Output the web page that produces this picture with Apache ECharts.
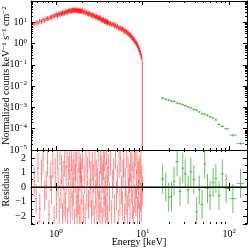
<!DOCTYPE html>
<html><head><meta charset="utf-8">
<script src="https://cdn.jsdelivr.net/npm/echarts@6/dist/echarts.min.js"></script>
<style>html,body{margin:0;padding:0;background:#fff}#c{width:249px;height:248px}</style>
</head><body><div id="c"></div>
<script>
// ---- data ----
const redEnergy = [
 0.56,0.59,0.62,0.65,0.68,0.71,0.74,0.77,0.80,0.83,0.86,0.89,0.92,0.95,0.98,
 1.01,1.04,1.06,1.09,1.11,1.14,1.16,1.19,1.21,1.24,1.26,1.29,1.31,1.34,1.36,1.39,1.41,1.44,1.46,1.49,
 1.51,1.54,1.56,1.59,1.61,1.64,1.66,1.69,1.71,1.74,1.76,1.79,1.81,1.84,1.86,1.89,1.91,1.94,1.96,1.99,
 2.02,2.07,2.12,2.17,2.22,2.27,2.32,2.37,2.42,2.47,2.52,2.57,2.62,2.67,2.72,2.77,2.82,2.87,2.92,2.97,
 3.02,3.07,3.12,3.17,3.22,3.27,3.32,3.37,3.42,3.47,3.52,3.57,3.62,3.67,3.72,3.77,3.82,3.87,3.92,3.97,
 4.03,4.15,4.27,4.39,4.51,4.63,4.75,4.87,4.99,5.11,5.23,5.35,5.47,5.59,5.71,5.83,5.95,6.07,6.19,6.31,
 6.43,6.55,6.67,6.79,6.91,7.03,7.15,7.27,7.39,7.51,7.63,7.75,7.87,7.99,8.11,8.23,8.35,8.47,8.59,8.71,
 8.83,8.95,9.07,9.19,9.31,9.43,9.55,9.67,9.79,9.91];
const redCounts = [
 8.3,9.9,9.4,11.8,11.0,13.4,12.1,14.6,15.5,15.4,18.1,17.2,20.3,19.0,21.9,
 23.4,21.0,24.1,25.9,23.2,27.8,25.0,28.9,26.6,30.9,27.5,31.8,29.4,33.9,31.0,35.2,31.8,36.9,33.5,37.8,
 34.0,39.5,35.1,38.2,36.0,40.6,34.9,38.8,36.4,39.9,35.0,38.3,33.8,37.9,34.2,36.9,32.6,36.5,33.1,35.6,
 35.1,30.2,32.4,27.9,30.5,28.6,26.0,24.6,26.9,25.3,22.9,21.4,23.8,20.1,22.3,21.2,19.0,17.7,19.6,16.6,
 18.5,15.6,17.4,16.9,14.7,16.5,13.8,13.0,14.5,12.2,13.6,12.9,11.5,10.9,12.1,10.3,11.5,9.7,10.9,9.3,
 10.3,8.6,9.3,7.7,8.4,7.9,6.9,7.6,6.3,6.9,5.7,5.1,5.7,5.3,4.7,5.2,4.3,4.7,3.8,4.2,
 3.5,3.8,3.1,3.4,2.7,2.9,2.35,2.55,2.05,2.2,1.78,1.9,1.5,1.6,1.27,1.34,1.05,1.1,0.86,0.89,
 0.68,0.70,0.52,0.53,0.39,0.39,0.28,0.27,0.19,0.11];
const redResid = [
 0.4,-0.8,1.3,-1.5,0.9,2.0,-0.6,0.1,1.7,-1.9,
 0.7,-0.2,1.6,-2.3,1.0,-1.2,2.2,0.3,-1.7,2.5,
 -0.5,1.2,-2.1,0.8,-1.0,1.7,-1.4,0.5,2.3,-2.4,
 1.1,-0.7,1.5,-1.8,0.2,2.1,-1.3,0.9,-0.3,1.8,
 -2.5,0.6,1.4,-1.1,2.4,-1.6,0.3,-0.9,2.0,-2.2,
 0.7,1.3,-1.8,1.0,-0.2,2.2,-1.5,0.5,-2.1,1.6,
 -0.6,1.1,-1.2,2.3,-0.4,0.8,-1.9,1.4,-1.0,0.6,
 -2.3,1.7,-0.5,0.9,-1.7,0.3,2.4,-1.3,0.1,-2.0,
 1.9,-0.8,1.2,-2.4,0.6,1.5,-1.1,2.1,-0.3,-1.6,
 0.8,2.5,-1.4,0.4,-2.2,1.3,-0.7,1.8,-1.9,0.2,
 1.0,-1.5,2.2,-0.6,0.5,-2.5,1.6,-1.0,2.0,-0.2,
 -1.3,0.9,1.7,-2.1,0.3,-0.9,2.3,-1.6,1.1,-0.4,
 0.6,-1.8,1.4,-0.1,2.1,-1.2,0.7,-2.3,1.5,-0.8,
 2.4,-1.0,0.2,1.9,-1.7,0.8,-0.5,1.2,-2.0,1.0,
 -0.7,1.6,-1.4,0.5,-0.3];
const greenEnergy = [17,18.5,20,21.5,23,25,27,29,31,33.5,36,39,42,45,48.5,52,56,60,65,70,76,83,92,110,135];
const greenCounts = [2.7e-3,2.4e-3,2.2e-3,2.0e-3,1.9e-3,1.6e-3,1.5e-3,1.35e-3,1.2e-3,1.05e-3,9.5e-4,8.0e-4,7.5e-4,6.2e-4,5.0e-4,4.8e-4,4.2e-4,3.6e-4,3.2e-4,2.6e-4,1.6e-4,1.3e-4,1.0e-4,5e-5,2e-5];
const greenResid = [0.55,0.0,-0.7,-0.65,0.4,1.75,-0.3,1.3,0.9,-0.2,1.05,0.5,-1.7,-0.2,-1.2,1.6,-0.1,-0.6,0.3,0.6,-0.6,0.9,-0.1,-0.8,0.25];
const redRelErr = 0.25, greenRelErr = 0.12, residErr = 1;
const redLastLower = 1e-5;        // last red bin's lower error reaches the floor

// ---- layout / style ----
const XMIN = 0.515, XMAX = 160, YMIN = 1e-5, YMAX = 100, RMIN = -2.55, RMAX = 2.55;
const RED_TOP = 'rgba(255,0,0,0.7)', RED = 'rgba(255,0,0,0.45)', GREEN = 'rgba(0,150,0,0.6)';
const FONT = 'Liberation Serif';

function edges(E){
  return E.map((e,i)=>{
    let lo, hi;
    if (i>0) lo = Math.sqrt(E[i-1]*e);
    if (i<E.length-1) hi = Math.sqrt(E[i+1]*e);
    if (lo===undefined) lo = e*e/hi;
    if (hi===undefined) hi = e*e/lo;
    return [lo,hi];
  });
}
const rE = edges(redEnergy), gE = edges(greenEnergy);
const redTop = redEnergy.map((e,i)=>[e, redCounts[i], i===redEnergy.length-1?redLastLower:redCounts[i]*(1-redRelErr), redCounts[i]*(1+redRelErr), rE[i][0], rE[i][1]]);
const greenTop = greenEnergy.map((e,i)=>[e, greenCounts[i], greenCounts[i]*(1-greenRelErr), greenCounts[i]*(1+greenRelErr), gE[i][0], gE[i][1]]);
const redRes = redEnergy.map((e,i)=>[e, redResid[i], redResid[i]-residErr, redResid[i]+residErr, rE[i][0], rE[i][1]]);
const greenRes = greenEnergy.map((e,i)=>[e, greenResid[i], greenResid[i]-residErr, greenResid[i]+residErr, gE[i][0], gE[i][1]]);

function errRender(color){
  return function(params, api){
    const x=api.value(0), y=api.value(1), ylo=api.value(2), yhi=api.value(3), xlo=api.value(4), xhi=api.value(5);
    const a=api.coord([x,ylo]), b=api.coord([x,yhi]), l=api.coord([xlo,y]), r=api.coord([xhi,y]);
    const style={stroke:color,lineWidth:1};
    return {type:'group',children:[
      {type:'line',shape:{x1:a[0],y1:a[1],x2:b[0],y2:b[1]},style},
      {type:'line',shape:{x1:l[0],y1:l[1],x2:r[0],y2:r[1]},style}
    ]};
  };
}
const xMinor=[]; for(let k=-1;k<=2;k++) for(let m=2;m<=9;m++){const v=m*Math.pow(10,k); if(v>XMIN&&v<XMAX) xMinor.push(v);}
const yMinor=[]; for(let k=-5;k<=1;k++) for(let m=2;m<=9;m++){const v=m*Math.pow(10,k); if(v>YMIN&&v<YMAX) yMinor.push(v);}
function minorRender(yRef){
  return function(params, api){
    const cs=params.coordSys; const kind=api.value(2);
    const st={stroke:'#000',lineWidth:1};
    if(kind===0){
      const px=Math.round(api.coord([api.value(0),yRef])[0])+0.5;
      return {type:'group',children:[
        {type:'line',shape:{x1:px,y1:cs.y+cs.height,x2:px,y2:cs.y+cs.height-2},style:st},
        {type:'line',shape:{x1:px,y1:cs.y,x2:px,y2:cs.y+2},style:st}]};
    } else {
      const py=Math.round(api.coord([1,api.value(1)])[1])+0.5;
      return {type:'group',children:[
        {type:'line',shape:{x1:cs.x,y1:py,x2:cs.x+2,y2:py},style:st},
        {type:'line',shape:{x1:cs.x+cs.width,y1:py,x2:cs.x+cs.width-2,y2:py},style:st}]};
    }
  };
}
function powLabel(v){
  const e=Math.log10(v), r=Math.round(e);
  if (Math.abs(e-r)>1e-6) return '';
  return '{b|10}{s|'+(r<0?'\u2212'+(-r):r)+'}';
}
const rich={b:{fontFamily:FONT,fontSize:10,color:'#000',lineHeight:12},s:{fontFamily:FONT,fontSize:7,color:'#000',verticalAlign:'top',lineHeight:8}};
const line={show:true,lineStyle:{color:'#000',width:1}};
const tick={show:true,inside:true,length:4,lineStyle:{color:'#000'}};

const chart=echarts.init(document.getElementById('c'),null,{renderer:'canvas'});
chart.setOption({
  animation:false,
  grid:[{left:31,top:1,width:216,height:149,outerBoundsMode:'none',containLabel:false},
        {left:31,top:150,width:216,height:74,outerBoundsMode:'none',containLabel:false}],
  xAxis:[
    {gridIndex:0,type:'log',logBase:10,min:XMIN,max:XMAX,position:'bottom',axisLine:line,axisTick:tick,axisLabel:{show:false},splitLine:{show:false}},
    {gridIndex:0,type:'log',logBase:10,min:XMIN,max:XMAX,position:'top',axisLine:line,axisTick:tick,axisLabel:{show:false},splitLine:{show:false}},
    {gridIndex:1,type:'log',logBase:10,min:XMIN,max:XMAX,position:'bottom',axisLine:line,axisTick:tick,splitLine:{show:false},
      axisLabel:{show:true,margin:4,formatter:powLabel,rich:rich,showMinLabel:false,showMaxLabel:false},
      name:'Energy [keV]',nameLocation:'middle',nameGap:13,nameMoveOverlap:false,nameTextStyle:{fontFamily:FONT,fontSize:10,color:'#000'}},
    {gridIndex:1,type:'log',logBase:10,min:XMIN,max:XMAX,position:'top',axisLine:line,axisTick:tick,axisLabel:{show:false},splitLine:{show:false}}
  ],
  yAxis:[
    {gridIndex:0,type:'log',logBase:10,min:YMIN,max:YMAX,position:'left',axisLine:line,axisTick:tick,splitLine:{show:false},
      axisLabel:{show:true,margin:4,formatter:powLabel,rich:rich,showMaxLabel:false},
      name:'Normalized counts keV{s|\u22121} s{s|\u22121} cm{s|\u22122}',nameLocation:'middle',nameGap:20,nameRotate:90,nameMoveOverlap:false,
      nameTextStyle:{fontFamily:FONT,fontSize:10,color:'#000',rich:{s:{fontFamily:FONT,fontSize:7,verticalAlign:'top',lineHeight:8,color:'#000'}}}},
    {gridIndex:0,type:'log',logBase:10,min:YMIN,max:YMAX,position:'right',axisLine:line,axisTick:tick,axisLabel:{show:false},splitLine:{show:false}},
    {gridIndex:1,type:'value',min:RMIN,max:RMAX,position:'left',axisLine:line,axisTick:tick,splitLine:{show:false},
      minorTick:{show:true,splitNumber:2,length:2,lineStyle:{color:'#000'}},
      axisLabel:{show:true,margin:5,fontFamily:FONT,fontSize:10,color:'#000',showMinLabel:false,showMaxLabel:false,
        formatter:v=>Number.isInteger(v)?String(v).replace('-','\u2212'):''},
      name:'Residuals',nameLocation:'middle',nameGap:20,nameRotate:90,nameMoveOverlap:false,nameTextStyle:{fontFamily:FONT,fontSize:10,color:'#000'}},
    {gridIndex:1,type:'value',min:RMIN,max:RMAX,position:'right',axisLine:line,axisTick:tick,axisLabel:{show:false},splitLine:{show:false},
      minorTick:{show:true,splitNumber:2,length:2,lineStyle:{color:'#000'}}}
  ],
  series:[
    {type:'custom',xAxisIndex:0,yAxisIndex:0,clip:true,renderItem:errRender(RED_TOP),data:redTop,encode:{x:0,y:1}},
    {type:'custom',xAxisIndex:0,yAxisIndex:0,clip:true,renderItem:errRender(GREEN),data:greenTop,encode:{x:0,y:1}},
    {type:'custom',xAxisIndex:2,yAxisIndex:2,clip:true,renderItem:errRender(RED),data:redRes,encode:{x:0,y:1}},
    {type:'custom',xAxisIndex:2,yAxisIndex:2,clip:true,renderItem:errRender(GREEN),data:greenRes,encode:{x:0,y:1}},
    {type:'line',xAxisIndex:2,yAxisIndex:2,data:[[XMIN,0],[XMAX,0]],symbol:'none',z:5,lineStyle:{color:'#000',width:1},silent:true},
    {type:'custom',xAxisIndex:0,yAxisIndex:0,clip:false,silent:true,renderItem:minorRender(1),
      data:xMinor.map(v=>[v,1,0]).concat(yMinor.map(v=>[1,v,1])),encode:{x:0,y:1}},
    {type:'custom',xAxisIndex:2,yAxisIndex:2,clip:false,silent:true,renderItem:minorRender(0),
      data:xMinor.map(v=>[v,0,0]),encode:{x:0,y:1}}
  ]
});
</script></body></html>
